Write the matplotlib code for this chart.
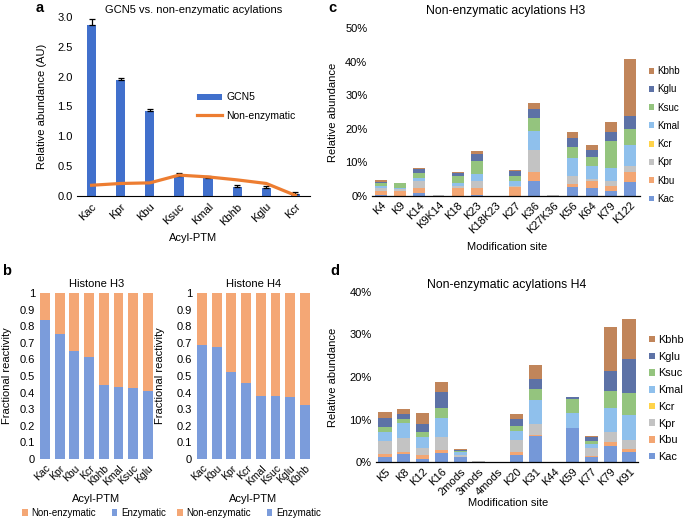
import matplotlib
matplotlib.use('Agg')
import matplotlib.pyplot as plt
import numpy as np
from matplotlib.patches import Patch
from matplotlib.lines import Line2D
from matplotlib.ticker import FuncFormatter

plt.rcParams['font.family'] = ['Liberation Sans', 'DejaVu Sans']

# ---------------- data ----------------
# Panel a
a_categories = ['Kac', 'Kpr', 'Kbu', 'Ksuc', 'Kmal', 'Kbhb', 'Kglu', 'Kcr']
a_gcn5 = [2.87, 1.95, 1.42, 0.34, 0.31, 0.15, 0.13, 0.04]
a_gcn5_err = [0.09, 0.03, 0.04, 0.05, 0.03, 0.04, 0.04, 0.03]
a_nonenz = [0.18, 0.21, 0.22, 0.35, 0.32, 0.27, 0.21, 0.01]

# Panel b
h3_categories = ['Kac', 'Kpr', 'Kbu', 'Kcr', 'Kbhb', 'Kmal', 'Ksuc', 'Kglu']
h3_enzymatic = [0.838, 0.752, 0.652, 0.614, 0.447, 0.434, 0.428, 0.410]
h4_categories = ['Kac', 'Kbu', 'Kpr', 'Kcr', 'Kmal', 'Ksuc', 'Kglu', 'Kbhb']
h4_enzymatic = [0.688, 0.672, 0.527, 0.457, 0.380, 0.381, 0.374, 0.326]
b_ticklabels = ['0', '0.1', '0.2', '0.3', '0.4', '0.5', '0.6', '0.7', '0.8', '0.9', '1']

# Panel c (percent)
mods = ['Kac', 'Kbu', 'Kpr', 'Kcr', 'Kmal', 'Ksuc', 'Kglu', 'Kbhb']
c_sites = ['K4', 'K9', 'K14', 'K9K14', 'K18', 'K23', 'K18K23', 'K27', 'K36',
           'K27K36', 'K56', 'K64', 'K79', 'K122']
c_Kac = [0.4, 0.1, 0.8, 0.0, 0.1, 0.2, 0.0, 0.1, 4.4, 0.0, 2.6, 2.3, 1.5, 4.1]
c_Kbu = [1.0, 1.5, 1.7, 0.0, 2.4, 2.1, 0.0, 2.5, 2.7, 0.0, 1.1, 2.1, 1.5, 2.9]
c_Kpr = [0.9, 0.4, 1.9, 0.3, 0.6, 2.2, 0.0, 0.3, 6.7, 0.3, 2.3, 0.7, 1.6, 1.9]
c_Kcr = [0.0] * 14
c_Kmal = [0.7, 0.5, 1.0, 0.0, 0.7, 2.0, 0.0, 1.5, 5.6, 0.0, 5.4, 3.9, 3.8, 6.2]
c_Ksuc = [0.9, 1.3, 1.4, 0.0, 2.1, 4.0, 0.0, 1.7, 3.9, 0.0, 3.2, 2.6, 7.9, 4.9]
c_Kglu = [0.4, 0.1, 1.1, 0.0, 0.9, 2.0, 0.0, 1.4, 2.6, 0.0, 2.8, 2.1, 2.8, 3.8]
c_Kbhb = [0.4, 0.1, 0.3, 0.0, 0.3, 0.8, 0.0, 0.3, 1.7, 0.0, 1.5, 1.4, 3.0, 17.1]

# Panel d (percent)
d_sites = ['K5', 'K8', 'K12', 'K16', '2mods', '3mods', '4mods', 'K20', 'K31',
           'K44', 'K59', 'K77', 'K79', 'K91']
d_Kac = [1.2, 2.0, 0.7, 2.1, 1.2, 0.0, 0.0, 1.7, 6.2, 0.0, 8.0, 1.3, 3.8, 2.3]
d_Kbu = [0.8, 0.4, 1.0, 0.8, 0.1, 0.0, 0.0, 0.6, 0.15, 0.0, 0.0, 0.15, 0.9, 0.9]
d_Kpr = [2.9, 3.4, 1.6, 3.0, 0.5, 0.2, 0.0, 2.9, 2.7, 0.0, 0.0, 1.8, 2.5, 2.0]
d_Kcr = [0.0, 0.0, 0.0, 0.0, 0.0, 0.0, 0.15, 0.0, 0.0, 0.0, 0.0, 0.0, 0.0, 0.0]
d_Kmal = [2.3, 3.4, 2.7, 4.6, 0.7, 0.0, 0.0, 2.1, 5.5, 0.0, 3.5, 1.0, 5.6, 5.9]
d_Ksuc = [1.1, 0.9, 1.0, 2.3, 0.15, 0.0, 0.0, 1.2, 2.7, 0.0, 3.4, 0.8, 4.0, 5.2]
d_Kglu = [2.0, 1.2, 2.0, 3.6, 0.25, 0.0, 0.0, 1.6, 2.2, 0.0, 0.5, 0.8, 4.7, 7.9]
d_Kbhb = [1.6, 1.2, 2.5, 2.4, 0.15, 0.0, 0.0, 1.2, 3.3, 0.0, 0.0, 0.3, 10.2, 9.4]

# ---------------- styles ----------------
mod_colors = {'Kac': '#7598D8', 'Kbu': '#F3A673', 'Kpr': '#C3C3C3', 'Kcr': '#FFD34A',
              'Kmal': '#8FC0EC', 'Ksuc': '#94C47E', 'Kglu': '#5D72A6', 'Kbhb': '#C1855A'}
blue_a = '#4170CC'
orange_a = '#ED7D31'
b_blue = '#7B9CDB'
b_orange = '#F4A775'

W, H = 685, 520
fig = plt.figure(figsize=(W / 100, H / 100), dpi=100)


def fx(px):
    return px / W


def fy(py):
    return 1 - py / H


def clean(ax, bottom=True):
    for s in ['top', 'right', 'left']:
        ax.spines[s].set_visible(False)
    ax.spines['bottom'].set_visible(bottom)
    ax.tick_params(length=0)


# ---------------- panel a ----------------
axa = fig.add_axes([fx(77), fy(196), fx(233), 179 / H])
xa = np.arange(len(a_categories))
axa.bar(xa, a_gcn5, width=0.32, color=blue_a, label='GCN5', zorder=2)
axa.errorbar(xa, a_gcn5, yerr=[np.zeros(len(a_gcn5)), a_gcn5_err], fmt='none',
             ecolor='black', elinewidth=0.9, capsize=2.5, capthick=0.9, zorder=3)
axa.plot(xa, a_nonenz, color=orange_a, lw=2.3, label='Non-enzymatic', zorder=4)
axa.set_xlim(-0.5, len(a_categories) - 0.5)
axa.set_ylim(0, 3.0)
axa.set_yticks(np.arange(0, 3.01, 0.5))
axa.set_yticklabels([f'{v:.1f}' for v in np.arange(0, 3.01, 0.5)], fontsize=8)
axa.set_xticks(xa)
axa.set_xticklabels(a_categories, rotation=45, ha='right', rotation_mode='anchor', fontsize=8)
clean(axa)
axa.tick_params(axis='x', pad=4)
axa.tick_params(axis='y', pad=3)
axa.spines['bottom'].set_linewidth(0.8)
axa.set_title('GCN5 vs. non-enzymatic acylations', fontsize=8, pad=3)
handles_a = [Patch(facecolor=blue_a, edgecolor='none'), Line2D([], [], color=orange_a, lw=2.3)]
axa.legend(handles_a, ['GCN5', 'Non-enzymatic'], loc='center left',
           bbox_to_anchor=(fx(197), fy(106.5)), bbox_transform=fig.transFigure,
           frameon=False, fontsize=7.5, borderpad=0, borderaxespad=0,
           handlelength=2.4, handleheight=0.5, handletextpad=0.4, labelspacing=0.8)
fig.text(fx(42), fy(106.5), 'Relative abundance (AU)', rotation=90, ha='center', va='center', fontsize=8)
fig.text(fx(193.5), fy(238), 'Acyl-PTM', ha='center', va='center', fontsize=8)

# ---------------- panel b ----------------
def frac_panel(left_px, cats, enz, title, ylabel_x, xlabel_x, leg_center_x):
    ax = fig.add_axes([fx(left_px), fy(459), fx(117.6), 166 / H])
    x = np.arange(len(cats))
    enz = np.array(enz)
    ax.bar(x, enz, width=0.68, color=b_blue, zorder=2)
    ax.bar(x, 1 - enz, bottom=enz, width=0.68, color=b_orange, zorder=2)
    ax.set_xlim(-0.5, len(cats) - 0.5)
    ax.set_ylim(0, 1)
    ax.set_yticks(np.linspace(0, 1, 11))
    ax.set_yticklabels(b_ticklabels, fontsize=8)
    ax.set_xticks(x)
    ax.set_xticklabels(cats, rotation=45, ha='right', rotation_mode='anchor', fontsize=7.5)
    clean(ax, bottom=False)
    ax.tick_params(axis='x', pad=3)
    ax.tick_params(axis='y', pad=2)
    ax.set_title(title, fontsize=8, pad=4)
    fig.text(fx(ylabel_x), fy(376), 'Fractional reactivity', rotation=90, ha='center', va='center', fontsize=8)
    fig.text(fx(xlabel_x), fy(499), 'Acyl-PTM', ha='center', va='center', fontsize=8)
    hs = [Patch(facecolor=b_orange, edgecolor='none'), Patch(facecolor=b_blue, edgecolor='none')]
    ax.legend(hs, ['Non-enzymatic', 'Enzymatic'], loc='center', ncol=2,
              bbox_to_anchor=(fx(leg_center_x), fy(513)), bbox_transform=fig.transFigure,
              frameon=False, fontsize=7, borderpad=0, borderaxespad=0,
              handlelength=0.6, handleheight=0.6, handletextpad=0.35, columnspacing=1.6)
    return ax


frac_panel(37.65, h3_categories, h3_enzymatic, 'Histone H3', 7, 96.5, 94)
frac_panel(194.65, h4_categories, h4_enzymatic, 'Histone H4', 160, 253.5, 249)

# ---------------- panels c/d ----------------
def stacked_panel(rect, sites, series, ymax, title, title_pad, width, leg_y_center, leg_x, leg_fs, leg_ls,
                  ylabel_xy, xlabel_xy):
    ax = fig.add_axes(rect)
    x = np.arange(len(sites))
    bottom = np.zeros(len(sites))
    for m in mods:
        vals = np.array(series[m])
        ax.bar(x, vals, bottom=bottom, width=width, color=mod_colors[m], label=m, zorder=2)
        bottom += vals
    ax.set_xlim(-0.5, len(sites) - 0.5)
    ax.set_ylim(0, ymax)
    ax.set_yticks(np.arange(0, ymax + 0.1, 10))
    ax.yaxis.set_major_formatter(FuncFormatter(lambda v, p: f'{v:.0f}%'))
    ax.tick_params(axis='y', labelsize=8, pad=3)
    ax.set_xticks(x)
    ax.set_xticklabels(sites, rotation=45, ha='right', rotation_mode='anchor', fontsize=8)
    clean(ax)
    ax.spines['bottom'].set_linewidth(0.9)
    ax.tick_params(axis='x', pad=3)
    ax.set_title(title, fontsize=8.8, pad=title_pad)
    hs = [Patch(facecolor=mod_colors[m], edgecolor='none') for m in mods[::-1]]
    ax.legend(hs, mods[::-1], loc='center left', bbox_to_anchor=(fx(leg_x), fy(leg_y_center)),
              bbox_transform=fig.transFigure, frameon=False, fontsize=leg_fs, borderpad=0,
              borderaxespad=0, handlelength=0.55, handleheight=0.55, handletextpad=0.25,
              labelspacing=leg_ls)
    fig.text(fx(ylabel_xy[0]), fy(ylabel_xy[1]), 'Relative abundance', rotation=90,
             ha='center', va='center', fontsize=8)
    fig.text(fx(xlabel_xy[0]), fy(xlabel_xy[1]), 'Modification site', ha='center', va='center', fontsize=8)
    return ax


c_series = {'Kac': c_Kac, 'Kbu': c_Kbu, 'Kpr': c_Kpr, 'Kcr': c_Kcr, 'Kmal': c_Kmal,
            'Ksuc': c_Ksuc, 'Kglu': c_Kglu, 'Kbhb': c_Kbhb}
d_series = {'Kac': d_Kac, 'Kbu': d_Kbu, 'Kpr': d_Kpr, 'Kcr': d_Kcr, 'Kmal': d_Kmal,
            'Ksuc': d_Ksuc, 'Kglu': d_Kglu, 'Kbhb': d_Kbhb}

stacked_panel([fx(371.5), fy(196), fx(268), 168 / H], c_sites, c_series, 50,
              'Non-enzymatic acylations H3', 10, 0.62, 135, 649, 7, 0.85, (333, 112), (507, 247))
stacked_panel([fx(375.6), fy(462.3), fx(262.8), 170.6 / H], d_sites, d_series, 40,
              'Non-enzymatic acylations H4', 3, 0.70, 398.5, 649, 7.8, 0.62, (333, 377), (508, 503))

# panel letters
for letter, px, py in [('a', 36, 1), ('c', 328, 1), ('b', 2, 264), ('d', 330, 264)]:
    fig.text(fx(px), fy(py), letter, fontsize=10.5, fontweight='bold', ha='left', va='top')

fig.savefig('out.png', dpi=100)
